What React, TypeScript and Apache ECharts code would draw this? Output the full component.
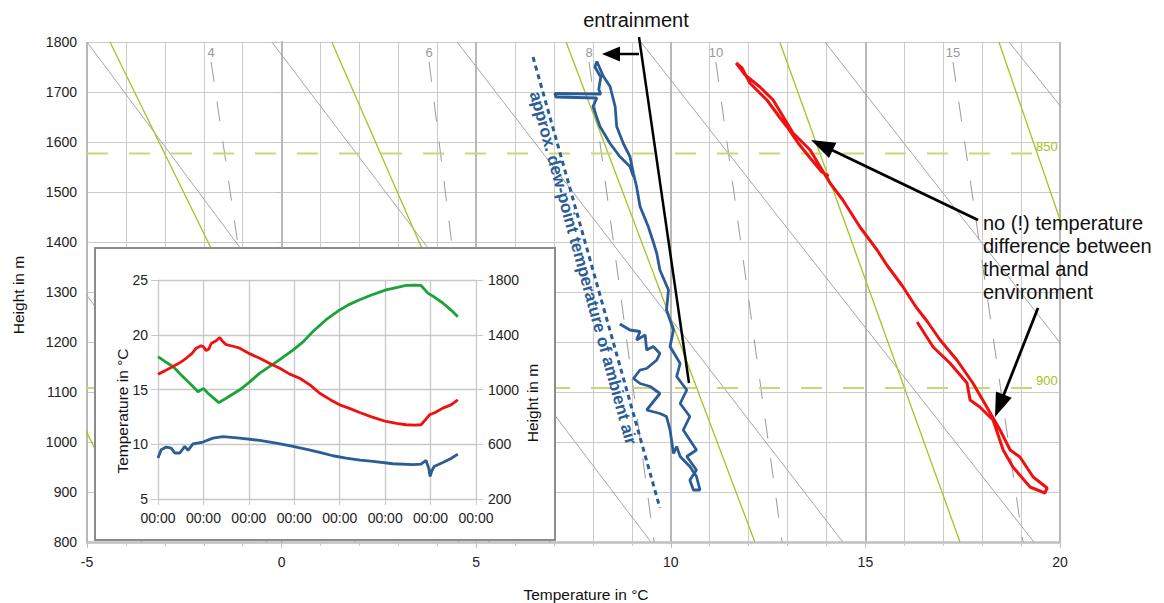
import React, { useEffect, useRef } from 'react';
import * as echarts from 'echarts';

const FONT = '"Liberation Sans", Arial, sans-serif';

// ---- Main chart (thermodynamic diagram) ----
const xTicks = [-5, 0, 5, 10, 15, 20];
const yTicks = [800, 900, 1000, 1100, 1200, 1300, 1400, 1500, 1600, 1700, 1800];

// dry adiabats: temperature at 1800 m and at 800 m
const dryAdiabatTop = [-9.75, -5, -0.25, 4.51, 9.23, 13.96, 18.69];
const dryAdiabatBottom = [-0.38, 4.56, 9.49, 14.42, 19.33, 24.0, 29.0];
// saturated (moist) adiabats: temperature at 1800 m and at 800 m
const moistAdiabatTop = [-10.06, -4.41, 1.29, 7.31, 12.8, 18.43];
const moistAdiabatBottom = [-3.59, 1.89, 6.9, 12.16, 17.43, 22.85];
// mixing ratio lines (g/kg): temperature at 1760 m and at 800 m
const mixingRatioLabels = ['4', '6', '8', '10', '15'];
const mixingRatioTop = [-1.81, 3.79, 7.9, 11.16, 17.25];
const mixingRatioBottom = [0.0, 5.33, 9.57, 12.86, 19.05];
// pressure levels (hPa) and their heights
const pressureLabels = ['850', '900'];
const pressureHeights = [1577, 1108];
const pressureLineEnd = 19.66;

// thermal temperature (red) along the flight
const redT = [16.33, 16.74, 17.17, 17.61, 17.69, 17.94, 18.28, 18.54, 18.79, 19.23, 19.61, 19.67, 19.31, 18.97, 18.72, 18.46, 18.12, 17.76, 17.35, 16.92, 16.6, 16.3, 15.95, 15.55, 15.3, 14.86, 14.42, 14.09, 13.58, 13.14, 12.63, 12.29, 11.91, 11.68, 11.83, 12.03, 12.47, 12.81, 12.99, 13.27, 13.58, 13.88, 14.06];
const redH = [1240, 1190, 1158, 1118, 1084, 1070, 1044, 984, 950, 910, 898, 908, 930, 970, 984, 1024, 1070, 1118, 1164, 1204, 1240, 1270, 1312, 1354, 1384, 1430, 1484, 1518, 1584, 1618, 1684, 1710, 1734, 1758, 1748, 1718, 1684, 1648, 1630, 1598, 1568, 1540, 1532];

// dew point in the thermal (blue)
const blueT = [8.69, 8.95, 9.21, 9.12, 9.34, 9.38, 9.55, 9.72, 9.64, 9.38, 9.21, 9.04, 9.21, 9.47, 9.72, 9.38, 9.72, 9.89, 9.98, 10.07, 10.15, 10.24, 10.49, 10.66, 10.75, 10.58,
  10.49, 10.66, 10.41, 10.66, 10.32, 10.49, 10.24, 10.41, 10.15, 10.24, 9.98, 10.07, 9.89, 9.94, 9.72, 9.64, 9.55, 9.42, 9.21, 9.12, 9.04, 8.95, 8.78, 8.61, 8.57, 8.44, 8.27, 8.10,
  8.05, 8.2, 8.15, 8.2, 7.02, 7.05, 8.1, 8.0, 8.18, 8.44, 8.69, 8.95, 9.04];
const blueH = [1236, 1224, 1221, 1204, 1214, 1184, 1191, 1177, 1164, 1147, 1144, 1127, 1117, 1111, 1097, 1064, 1057, 1051, 1024, 977, 991, 971, 951, 931, 904, 904,
  924, 944, 971, 984, 1024, 1051, 1077, 1104, 1131, 1157, 1191, 1224, 1264, 1304, 1344, 1377, 1400, 1431, 1471, 1511, 1537, 1571, 1597, 1631, 1671, 1711, 1731, 1761,
  1750, 1730, 1705, 1696, 1697, 1690, 1688, 1671, 1631, 1597, 1571, 1551, 1531];

// approx. dew point of ambient air (dashed blue)
const approxDewT = [6.46, 9.72];
const approxDewH = [1770, 868];

// ---- Inset (time series) ----
const insetTimeLabels = ['00:00', '00:00', '00:00', '00:00', '00:00', '00:00', '00:00', '00:00'];
const insetRedTime = [0, 0.15, 0.33, 0.5, 0.62, 0.75, 0.84, 0.95, 1.0, 1.06, 1.12, 1.17, 1.28, 1.36, 1.42, 1.5, 1.65, 1.8, 2.0, 2.24, 2.45, 2.68, 2.9, 3.12, 3.35, 3.56, 3.8, 4.0, 4.2, 4.44, 4.7, 5.02, 5.25, 5.46, 5.65, 5.79, 5.9, 5.98, 6.1, 6.27, 6.45, 6.6];
const insetRedTemp = [16.4, 16.7, 17.1, 17.5, 17.85, 18.3, 18.77, 19.0, 18.9, 18.55, 18.7, 19.2, 19.45, 19.75, 19.4, 19.1, 18.95, 18.77, 18.3, 17.85, 17.4, 16.94, 16.4, 16.03, 15.4, 14.66, 14.05, 13.6, 13.3, 12.9, 12.5, 12.08, 11.9, 11.78, 11.75, 11.78, 12.3, 12.7, 12.9, 13.3, 13.6, 14.06];
const insetGreenTime = [0, 0.15, 0.33, 0.5, 0.77, 0.88, 1.0, 1.1, 1.25, 1.34, 1.5, 1.8, 2.0, 2.24, 2.6, 2.97, 3.2, 3.41, 3.7, 4.0, 4.2, 4.44, 4.7, 5.02, 5.25, 5.46, 5.65, 5.79, 5.94, 6.1, 6.27, 6.45, 6.6];
const insetGreenHeight = [1240, 1205, 1168, 1110, 1022, 984, 1008, 973, 930, 904, 936, 998, 1050, 1120, 1200, 1288, 1350, 1424, 1510, 1581, 1620, 1656, 1690, 1728, 1745, 1760, 1762, 1760, 1704, 1672, 1632, 1580, 1532];
const insetBlueTime = [0, 0.07, 0.18, 0.29, 0.37, 0.48, 0.59, 0.66, 0.77, 0.99, 1.21, 1.43, 1.8, 2.24, 2.6, 2.97, 3.3, 3.56, 3.85, 4.14, 4.45, 4.73, 5.17, 5.61, 5.79, 5.9, 5.96, 5.99, 6.03, 6.08, 6.27, 6.45, 6.6];
const insetBlueTemp = [8.74, 9.5, 9.74, 9.65, 9.2, 9.2, 9.8, 9.44, 10.04, 10.2, 10.56, 10.7, 10.56, 10.35, 10.1, 9.8, 9.5, 9.25, 8.95, 8.74, 8.55, 8.43, 8.22, 8.13, 8.19, 8.52, 7.8, 7.06, 7.6, 7.97, 8.34, 8.7, 9.1];

const zip = (a: number[], b: number[]) => a.map((v, i) => [v, b[i]]);
const plain = (v: number) => String(v);

function arrow(x1: number, y1: number, x2: number, y2: number, headLen: number, headW: number, width: number) {
  const dx = x2 - x1, dy = y2 - y1;
  const L = Math.hypot(dx, dy);
  const ux = dx / L, uy = dy / L;
  const bx = x2 - ux * headLen, by = y2 - uy * headLen;
  const px = -uy, py = ux;
  return [
    { type: 'line', z: 100, shape: { x1, y1, x2: bx + ux * 2, y2: by + uy * 2 }, style: { stroke: '#000', lineWidth: width } },
    { type: 'polygon', z: 100, shape: { points: [[x2, y2], [bx + px * headW / 2, by + py * headW / 2], [bx - px * headW / 2, by - py * headW / 2]] }, style: { fill: '#000' } },
  ];
}

function lineSeries(data: any[], color: string, width: number, type: any, z: number) {
  return {
    type: 'line', data, symbol: 'circle', symbolSize: 0, showSymbol: true, silent: true,
    itemStyle: { color: 'rgba(0,0,0,0)' },
    lineStyle: { color, width, type }, z, clip: true,
  };
}

export default function App() {
  const mainRef = useRef<HTMLDivElement>(null);
  const insetRef = useRef<HTMLDivElement>(null);

  useEffect(() => {
    const main = echarts.init(mainRef.current!, null, { renderer: 'svg' });
    const inset = echarts.init(insetRef.current!, null, { renderer: 'svg' });

    const series: any[] = [];
    dryAdiabatTop.forEach((t, i) => series.push(lineSeries([[t, 1800], [dryAdiabatBottom[i], 800]], '#a6a6a6', 1, 'solid', 2)));
    moistAdiabatTop.forEach((t, i) => series.push(lineSeries([[t, 1800], [moistAdiabatBottom[i], 800]], '#a3c424', 1.3, 'solid', 2)));
    mixingRatioLabels.forEach((lab, i) => series.push(lineSeries([
      { value: [mixingRatioTop[i], 1760], label: { show: true, formatter: lab, position: 'top', distance: 3, color: '#9a9a9a', fontSize: 13, fontFamily: FONT } },
      [mixingRatioBottom[i], 800],
    ], '#9a9a9a', 1, [20, 20], 2)));
    pressureLabels.forEach((lab, i) => series.push(lineSeries([
      [-5, pressureHeights[i]],
      { value: [pressureLineEnd, pressureHeights[i]], label: { show: true, formatter: lab, position: 'top', distance: 1, color: '#a3c424', fontSize: 13, fontFamily: FONT } },
    ], '#c7da72', 2, [21, 21], 2)));
    series.push({ type: 'line', data: zip(approxDewT, approxDewH), symbol: 'none', silent: true, lineStyle: { color: '#2b5c96', width: 3, type: [5, 4] }, z: 5 });
    series.push({ type: 'line', data: zip(blueT, blueH), symbol: 'none', silent: true, lineStyle: { color: '#2b5c96', width: 2.8 }, z: 6 });
    series.push({ type: 'line', data: zip(redT, redH), symbol: 'none', silent: true, lineStyle: { color: '#f01010', width: 3 }, z: 6 });

    const graphics: any[] = [
      { type: 'text', z: 100, x: 636, y: 20, style: { text: 'entrainment', font: `20px ${FONT}`, fill: '#111', textAlign: 'center', textVerticalAlign: 'middle' } },
      { type: 'line', z: 100, shape: { x1: 639, y1: 37, x2: 689, y2: 383 }, style: { stroke: '#000', lineWidth: 2.5 } },
      ...arrow(639, 54, 602, 54, 18, 15, 2.5),
      { type: 'text', z: 100, x: 983, y: 211, style: { text: 'no (!) temperature\ndifference between\nthermal and\nenvironment', font: `20px ${FONT}`, lineHeight: 23, fill: '#111', textAlign: 'left', textVerticalAlign: 'top' } },
      ...arrow(978, 220, 811, 140, 24, 17, 2.8),
      ...arrow(1038, 308, 995, 417, 24, 17, 2.8),
      { type: 'text', z: 100, x: 583, y: 268, rotation: -1.304, style: { text: 'approx. dew-point temperature of ambient air', font: `bold 17px ${FONT}`, fill: '#2b5c96', textAlign: 'center', textVerticalAlign: 'middle' } },
      { type: 'text', z: 100, x: 18, y: 295, rotation: Math.PI / 2, style: { text: 'Height in m', font: `15.5px ${FONT}`, fill: '#111', textAlign: 'center', textVerticalAlign: 'middle' } },
      { type: 'text', z: 100, x: 586, y: 594, style: { text: 'Temperature in °C', font: `15.5px ${FONT}`, fill: '#111', textAlign: 'center', textVerticalAlign: 'middle' } },
    ];

    main.setOption({
      animation: false,
      textStyle: { fontFamily: FONT },
      grid: { left: 87, right: 104, top: 42, bottom: 61 },
      xAxis: {
        type: 'value', min: xTicks[0], max: xTicks[xTicks.length - 1], interval: 5, splitNumber: 5,
        axisLine: { show: true, onZero: false, lineStyle: { color: '#c0c0c0', width: 2.5 } },
        axisTick: { show: true, length: 6, lineStyle: { color: '#c0c0c0' } },
        minorTick: { show: true, splitNumber: 5, length: 4, lineStyle: { color: '#c8c8c8' } },
        axisLabel: { color: '#222', fontSize: 14, margin: 13, formatter: plain },
        splitLine: { show: true, lineStyle: { color: '#b8b8b8', width: 2 } },
        minorSplitLine: { show: true, lineStyle: { color: '#cbcbcb', width: 1 } },
      },
      yAxis: {
        type: 'value', min: yTicks[0], max: yTicks[yTicks.length - 1], interval: 100,
        axisLine: { show: true, lineStyle: { color: '#b8b8b8', width: 2 } },
        axisTick: { show: true, length: 6, lineStyle: { color: '#c0c0c0' } },
        axisLabel: { color: '#222', fontSize: 14, margin: 10, formatter: plain },
        splitLine: { show: true, lineStyle: { color: '#cbcbcb', width: 1.2 } },
      },
      series,
      graphic: { elements: graphics },
    });

    inset.setOption({
      animation: false,
      textStyle: { fontFamily: FONT },
      grid: { left: 62, right: 78, top: 31, bottom: 40 },
      xAxis: {
        type: 'value', min: 0, max: insetTimeLabels.length - 1, interval: 1,
        axisLine: { show: false },
        axisTick: { show: true, length: 6, lineStyle: { color: '#c8c8c8' } },
        axisLabel: { color: '#222', fontSize: 14, margin: 12, formatter: (v: number) => insetTimeLabels[Math.round(v)] ?? '' },
        splitLine: { show: true, lineStyle: { color: '#c8c8c8', width: 1.3 } },
      },
      yAxis: [
        {
          type: 'value', min: 5, max: 25, interval: 5,
          axisLine: { show: false },
          axisTick: { show: true, length: 7, lineStyle: { color: '#c8c8c8' } },
          axisLabel: { color: '#222', fontSize: 14, margin: 10, formatter: plain },
          splitLine: { show: true, lineStyle: { color: '#c8c8c8', width: 1.3 } },
        },
        {
          type: 'value', min: 200, max: 1800, interval: 400, position: 'right',
          axisLine: { show: false },
          axisTick: { show: true, length: 7, lineStyle: { color: '#c8c8c8' } },
          axisLabel: { color: '#222', fontSize: 14, margin: 12, formatter: plain },
          splitLine: { show: false },
        },
      ],
      series: [
        { type: 'line', data: zip(insetGreenTime, insetGreenHeight), yAxisIndex: 1, symbol: 'none', silent: true, lineStyle: { color: '#1aa337', width: 2.8 } },
        { type: 'line', data: zip(insetRedTime, insetRedTemp), yAxisIndex: 0, symbol: 'none', silent: true, lineStyle: { color: '#f01010', width: 2.8 } },
        { type: 'line', data: zip(insetBlueTime, insetBlueTemp), yAxisIndex: 0, symbol: 'none', silent: true, lineStyle: { color: '#2b5c96', width: 2.8 } },
      ],
      graphic: {
        elements: [
          { type: 'text', x: 26, y: 162, rotation: Math.PI / 2, style: { text: 'Temperature in °C', font: `15.5px ${FONT}`, fill: '#111', textAlign: 'center', textVerticalAlign: 'middle' } },
          { type: 'text', x: 436, y: 154, rotation: Math.PI / 2, style: { text: 'Height in m', font: `15.5px ${FONT}`, fill: '#111', textAlign: 'center', textVerticalAlign: 'middle' } },
        ],
      },
    });

    return () => { main.dispose(); inset.dispose(); };
  }, []);

  return (
    <div style={{ position: 'fixed', left: 0, top: 0, width: 1164, height: 603, background: '#fff', overflow: 'hidden' }}>
      <div ref={mainRef} style={{ position: 'absolute', left: 0, top: 0, width: 1164, height: 603 }} />
      <div style={{ position: 'absolute', left: 94, top: 247, width: 462, height: 294, boxSizing: 'border-box', border: '2px solid #8c8c8c', background: '#fff' }}>
        <div ref={insetRef} style={{ width: 458, height: 290 }} />
      </div>
    </div>
  );
}
